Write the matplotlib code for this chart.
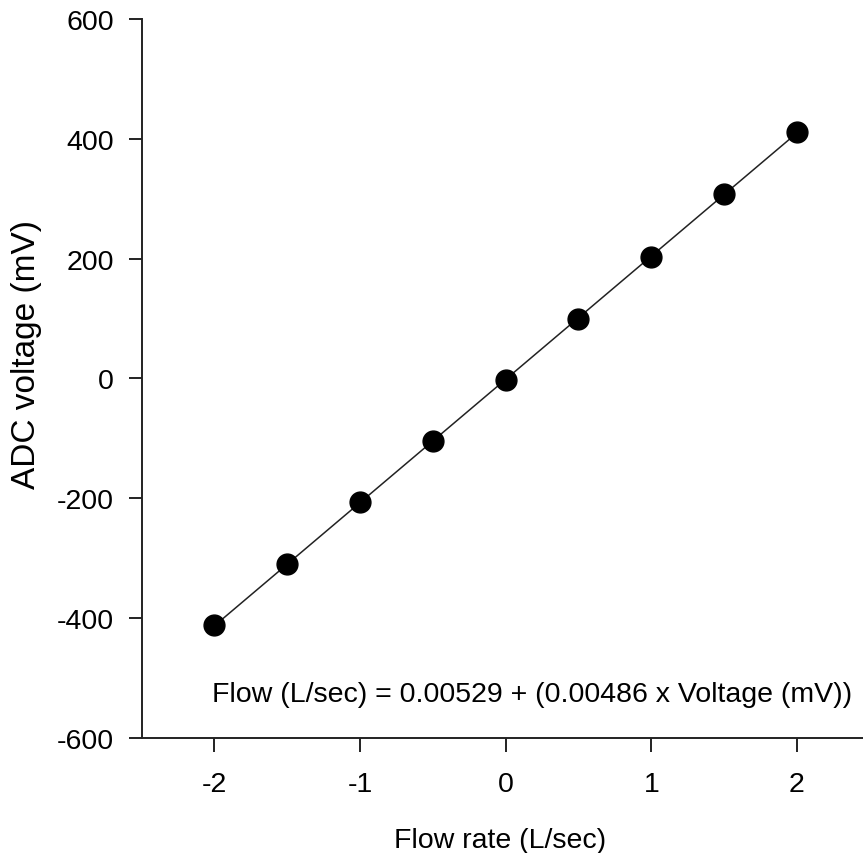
import matplotlib.pyplot as plt
import numpy as np

plt.rcParams["font.family"] = ["Liberation Sans", "DejaVu Sans"]

# calibration data
flow_rate = [-2.0, -1.5, -1.0, -0.5, 0.0, 0.5, 1.0, 1.5, 2.0]
adc_voltage = [-412, -310, -207, -104, -2, 100, 203, 307, 411]

x_ticks = [-2, -1, 0, 1, 2]
y_ticks = [-600, -400, -200, 0, 200, 400, 600]
equation = "Flow (L/sec) = 0.00529 + (0.00486 x Voltage (mV))"

W, H = 863, 854
fig = plt.figure(figsize=(W / 100, H / 100), dpi=100)
ax = fig.add_axes([0.1642, 0.1347, 0.8435, 0.842])

# least squares line through the points
slope, intercept = np.polyfit(flow_rate, adc_voltage, 1)
fit_x = np.array([flow_rate[0], flow_rate[-1]])
ax.plot(fit_x, slope * fit_x + intercept, color="#222222", linewidth=1.1, zorder=2)
ax.plot(flow_rate, adc_voltage, "o", color="black", markersize=15, zorder=3)

ax.set_xlim(-2.5, 2.5)
ax.set_ylim(-600, 600)
ax.set_xticks(x_ticks)
ax.set_yticks(y_ticks)
ax.set_xticklabels([str(t) for t in x_ticks])
ax.set_yticklabels([str(t) for t in y_ticks])

for side in ["top", "right"]:
    ax.spines[side].set_visible(False)
for side in ["left", "bottom"]:
    ax.spines[side].set_linewidth(1.4)
    ax.spines[side].set_color("#222222")

ax.tick_params(axis="y", direction="out", length=9.5, width=1.4, pad=10.5, labelsize=20.5, color="#222222")
ax.tick_params(axis="x", direction="out", length=10, width=1.4, pad=14, labelsize=20.5, color="#222222")

# axis titles placed in figure pixels
fig.text(500 / W, 1 - 848 / H, "Flow rate (L/sec)", fontsize=20.5, ha="center", va="baseline")
fig.text(27 / W, 1 - 355 / H, "ADC voltage (mV)", fontsize=24, rotation=90, ha="center", va="center")

ax.text(-2.02, -527, equation, fontsize=20.5, va="center", ha="left")

fig.savefig("out.png", dpi=100)
